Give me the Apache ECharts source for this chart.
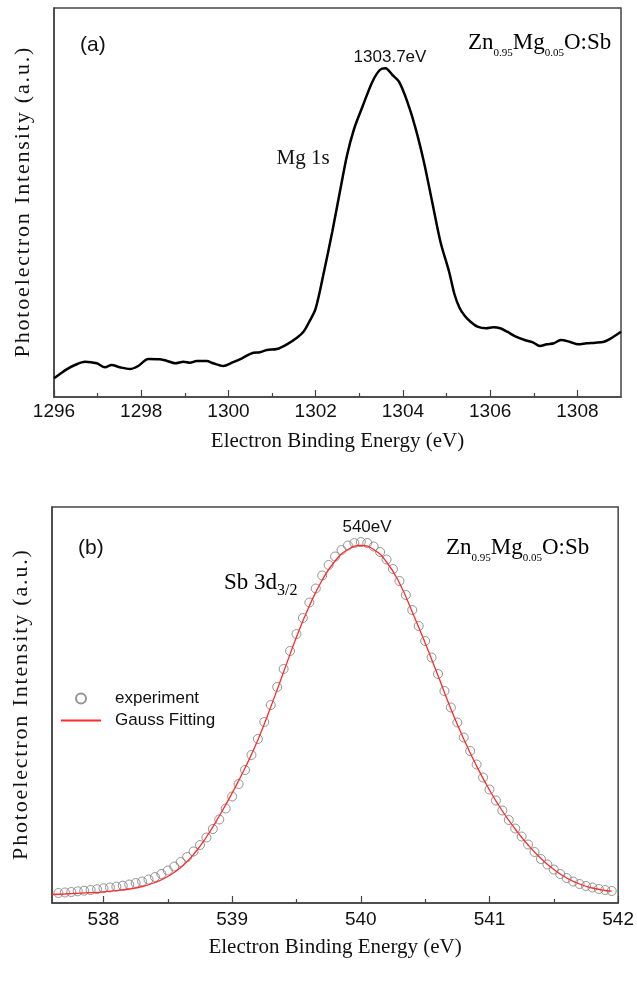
<!DOCTYPE html>
<html>
<head>
<meta charset="utf-8">
<script src="https://cdn.jsdelivr.net/npm/echarts@6/dist/echarts.min.js"></script>
<style>
  html, body { margin: 0; padding: 0; background: #fff; }
  #chart { width: 637px; height: 981px; }
</style>
</head>
<body>
<div id="chart"></div>
<script>
(function() {
  // --- data: panel (a) Mg 1s spectrum ---
  var mgEnergy = [1296.00, 1296.15, 1296.29, 1296.48, 1296.71, 1296.98, 1297.17, 1297.32, 1297.51, 1297.74,
    1297.93, 1298.16, 1298.43, 1298.58, 1298.78, 1298.97, 1299.12, 1299.27, 1299.50, 1299.65,
    1299.88, 1300.08, 1300.31, 1300.57, 1300.72, 1300.88, 1301.11, 1301.34, 1301.57, 1301.72,
    1301.85, 1302.00, 1302.19, 1302.38, 1302.57, 1302.72, 1302.88, 1303.07, 1303.30, 1303.47,
    1303.60, 1303.76, 1303.91, 1304.10, 1304.29, 1304.48, 1304.67, 1304.86, 1305.06, 1305.18,
    1305.30, 1305.42, 1305.55, 1305.71, 1305.91, 1306.07, 1306.23, 1306.39, 1306.59, 1306.79,
    1306.98, 1307.14, 1307.30, 1307.46, 1307.62, 1307.82, 1308.02, 1308.21, 1308.41, 1308.61,
    1308.77, 1309.00];
  var mgIntensity = [18.7, 23.5, 27.7, 32.0, 35.3, 33.7, 29.7, 32.0, 29.7, 28.0,
    31.0, 38.0, 37.7, 36.3, 33.7, 35.3, 34.3, 36.0, 36.0, 33.7,
    31.0, 34.3, 38.7, 44.3, 44.7, 47.0, 48.0, 52.7, 59.3, 65.3,
    75.0, 88.7, 125.3, 165.3, 208.7, 242.0, 268.0, 290.0, 315.3, 327.0,
    328.7, 322.0, 315.3, 295.3, 268.7, 235.3, 195.3, 155.3, 125.0, 103.0,
    89.0, 81.0, 75.3, 70.3, 68.7, 69.7, 68.7, 65.3, 60.3, 57.0,
    54.7, 51.0, 52.7, 53.7, 57.0, 55.3, 52.7, 53.7, 54.3, 55.3,
    58.7, 65.3];

  // --- data: panel (b) Sb 3d3/2 experiment points ---
  var sbEnergy = [537.65, 537.70, 537.75, 537.80, 537.85, 537.90, 537.95, 538.00, 538.05, 538.10,
    538.15, 538.20, 538.25, 538.30, 538.35, 538.40, 538.45, 538.50, 538.55, 538.60,
    538.65, 538.70, 538.75, 538.80, 538.85, 538.90, 538.95, 539.00, 539.05, 539.10,
    539.15, 539.20, 539.25, 539.30, 539.35, 539.40, 539.45, 539.50, 539.55, 539.60,
    539.65, 539.70, 539.75, 539.80, 539.85, 539.90, 539.95, 540.00, 540.05, 540.10,
    540.15, 540.20, 540.25, 540.30, 540.35, 540.40, 540.45, 540.50, 540.55, 540.60,
    540.65, 540.70, 540.75, 540.80, 540.85, 540.90, 540.95, 541.00, 541.05, 541.10,
    541.15, 541.20, 541.25, 541.30, 541.35, 541.40, 541.45, 541.50, 541.55, 541.60,
    541.65, 541.70, 541.75, 541.80, 541.85, 541.90, 541.95];
  var sbIntensity = [10.0, 10.5, 11.0, 11.7, 12.3, 13.0, 13.8, 14.7, 15.5, 16.4,
    17.3, 18.5, 20.0, 21.5, 23.5, 26.0, 29.0, 32.5, 36.5, 41.0,
    46.0, 51.5, 58.0, 65.5, 74.0, 83.5, 94.5, 106.5, 119.0, 133.0,
    148.0, 164.0, 181.0, 198.0, 216.0, 234.0, 252.0, 269.0, 285.0, 300.5,
    314.5, 327.5, 338.0, 346.5, 353.0, 357.5, 360.0, 361.0, 360.0, 356.5,
    351.0, 343.5, 334.0, 322.0, 308.0, 293.0, 277.0, 262.0, 245.5, 229.0,
    212.0, 195.5, 180.5, 165.5, 152.0, 138.5, 125.5, 113.5, 102.5, 92.5,
    83.0, 74.5, 66.5, 58.5, 51.0, 44.0, 38.5, 33.5, 29.0, 25.0,
    21.5, 19.0, 17.0, 15.5, 14.0, 13.0, 12.0];

  // --- data: panel (b) Gauss fitting curve ---
  var fitEnergy = [537.6, 537.7, 537.8, 537.9, 538.0, 538.1, 538.2, 538.3, 538.4, 538.5,
    538.6, 538.7, 538.8, 538.9, 539.0, 539.1, 539.2, 539.3, 539.4, 539.5,
    539.6, 539.7, 539.8, 539.9, 540.0, 540.1, 540.2, 540.3, 540.4, 540.5,
    540.6, 540.7, 540.8, 540.9, 541.0, 541.1, 541.2, 541.3, 541.4, 541.5,
    541.6, 541.7, 541.8, 541.9, 541.95];
  var fitIntensity = [8.5, 9.0, 9.6, 10.3, 11.2, 12.4, 14.0, 16.5, 20.5, 26.5,
    35.5, 48.5, 66.0, 87.0, 110.0, 135.0, 163.0, 196.0, 231.0, 266.0,
    297.0, 323.0, 342.0, 353.5, 357.5, 353.5, 341.0, 320.0, 291.0, 260.0,
    227.5, 194.0, 164.0, 137.0, 113.0, 92.0, 74.0, 58.0, 44.5, 33.5,
    25.0, 19.0, 15.0, 12.5, 11.8];

  // --- ticks ---
  var topMajor = [1296, 1298, 1300, 1302, 1304, 1306, 1308];
  var topMinor = [1297, 1299, 1301, 1303, 1305, 1307];
  var botMajor = [538, 539, 540, 541, 542];
  var botMinor = [538.5, 539.5, 540.5, 541.5];

  function pairs(xs, ys) {
    var out = [];
    for (var i = 0; i < xs.length; i++) out.push([xs[i], ys[i]]);
    return out;
  }
  // spread letters a little, the original y title is loosely set
  function spaced(s) {
    return s.split('').join('\u200A');
  }

  var serif = "'Liberation Serif', 'Times New Roman', serif";
  var sans = "'Liberation Sans', Arial, sans-serif";
  var ink = '#111';
  var frame = '#444';

  function mainX(grid, min, max, labels, title, margin) {
    return {
      type: 'value', gridIndex: grid, min: min, max: max,
      name: title, nameLocation: 'middle', nameGap: 34,
      nameTextStyle: { fontFamily: serif, fontSize: 21, color: ink },
      axisLine: { show: true, onZero: false, lineStyle: { color: frame, width: 1.5 } },
      axisTick: { show: true, inside: true, length: 7, customValues: labels, lineStyle: { color: frame, width: 1.2 } },
      axisLabel: { customValues: labels, fontFamily: sans, fontSize: 19, color: ink, margin: margin,
        formatter: function(v) { return String(v); } },
      splitLine: { show: false }
    };
  }
  function minorX(grid, min, max, ticks) {
    return {
      type: 'value', gridIndex: grid, min: min, max: max, position: 'bottom',
      axisLine: { show: false },
      axisTick: { show: true, inside: true, length: 4, customValues: ticks, lineStyle: { color: frame, width: 1.2 } },
      axisLabel: { show: false },
      splitLine: { show: false }
    };
  }
  function yAx(grid, max) {
    return {
      type: 'value', gridIndex: grid, min: 0, max: max,
      name: spaced('Photoelectron Intensity (a.u.)'), nameLocation: 'middle', nameGap: 20,
      nameTextStyle: { fontFamily: serif, fontSize: 22, color: ink },
      axisLine: { show: true, lineStyle: { color: frame, width: 1.5 } },
      axisTick: { show: false }, axisLabel: { show: false }, splitLine: { show: false }
    };
  }

  var compRich = {
    m: { fontFamily: serif, fontSize: 23, color: ink, lineHeight: 28, verticalAlign: 'top' },
    s: { fontFamily: serif, fontSize: 11, color: ink, lineHeight: 28, verticalAlign: 'bottom' }
  };
  var compText = '{m|Zn}{s|0.95}{m|Mg}{s|0.05}{m|O:Sb}';

  var chart = echarts.init(document.getElementById('chart'), null, { renderer: 'canvas' });
  chart.setOption({
    animation: false,
    backgroundColor: '#fff',
    grid: [
      { left: 54, top: 8, width: 567, height: 389, show: true, borderColor: frame, borderWidth: 1.5 },
      { left: 52, top: 507, width: 568, height: 396, show: true, borderColor: frame, borderWidth: 1.5 }
    ],
    xAxis: [
      mainX(0, 1296, 1309, topMajor, 'Electron Binding Energy (eV)', 5),
      minorX(0, 1296, 1309, topMinor),
      mainX(1, 537.6, 542, botMajor, 'Electron Binding Energy (eV)', 7),
      minorX(1, 537.6, 542, botMinor)
    ],
    yAxis: [yAx(0, 389), yAx(1, 396)],
    legend: {
      orient: 'vertical', left: 55, top: 685, itemWidth: 40, itemHeight: 10, itemGap: 5,
      textStyle: { fontFamily: sans, fontSize: 17, color: ink, padding: [0, 0, 0, 9] },
      data: [
        { name: 'experiment' },
        { name: 'Gauss Fitting', itemStyle: { opacity: 0 } }
      ]
    },
    series: [
      {
        name: 'Mg 1s', type: 'line', xAxisIndex: 0, yAxisIndex: 0,
        data: pairs(mgEnergy, mgIntensity), showSymbol: false, smooth: 0.3,
        lineStyle: { color: '#000', width: 2.5 }
      },
      {
        name: 'experiment', type: 'scatter', xAxisIndex: 2, yAxisIndex: 1,
        data: pairs(sbEnergy, sbIntensity), symbol: 'circle', symbolSize: 9,
        itemStyle: { color: 'rgba(255,255,255,0)', borderColor: '#7a7a7a', borderWidth: 1 }
      },
      {
        name: 'Gauss Fitting', type: 'line', xAxisIndex: 2, yAxisIndex: 1,
        data: pairs(fitEnergy, fitIntensity), showSymbol: false, symbol: 'none', smooth: true,
        itemStyle: { color: '#ff2a2a' },
        lineStyle: { color: '#ff2a2a', width: 1.3 }
      }
    ],
    graphic: [
      { type: 'text', left: 80, top: 35, style: { text: '(a)', font: '21px ' + sans, fill: ink } },
      { type: 'text', x: 390, y: 57, style: { text: '1303.7eV', font: '17px ' + sans, fill: ink, textAlign: 'center', textVerticalAlign: 'middle' } },
      { type: 'text', left: 468, top: 31, style: { text: compText, rich: compRich } },
      { type: 'text', x: 303, y: 158, style: { text: 'Mg 1s', font: '21px ' + serif, fill: ink, textAlign: 'center', textVerticalAlign: 'middle' } },
      { type: 'text', left: 78, top: 538, style: { text: '(b)', font: '21px ' + sans, fill: ink } },
      { type: 'text', x: 367, y: 527, style: { text: '540eV', font: '17px ' + sans, fill: ink, textAlign: 'center', textVerticalAlign: 'middle' } },
      { type: 'text', left: 446, top: 536, style: { text: compText, rich: compRich } },
      { type: 'text', left: 224, top: 571, style: {
        text: '{m|Sb 3d}{s|3/2}',
        rich: {
          m: { fontFamily: serif, fontSize: 23, color: ink, lineHeight: 28, verticalAlign: 'top' },
          s: { fontFamily: serif, fontSize: 16, color: ink, lineHeight: 28, verticalAlign: 'bottom' }
        }
      } }
    ]
  });
  window.addEventListener('resize', function() { chart.resize(); });
})();
</script>
</body>
</html>
